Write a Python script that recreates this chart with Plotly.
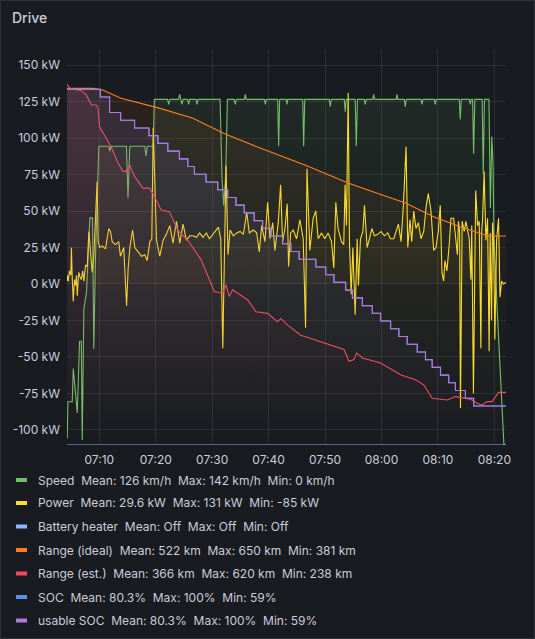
import pandas as pd
import plotly.graph_objects as go

DAY = pd.Timestamp("2023-06-17 07:00")

# time axis limits, minutes after 07:00
X_START, X_END = 4.27, 82.07

# Speed (km/h), minutes after 07:00
speed_t = [4.27, 4.32, 4.43, 5.20, 5.38, 6.09, 6.49, 6.80, 6.97, 7.26,
           7.73, 8.32, 8.79, 9.02, 9.32, 9.91, 11.67, 11.85, 12.03, 14.80,
           15.08, 15.40, 18.05, 18.27, 18.50, 19.55, 19.75, 22.10, 22.29, 22.50,
           24.05, 24.24, 24.45, 24.65, 24.85, 25.65, 25.83, 26.00, 27.15, 27.31,
           27.50, 31.40, 31.75, 32.05, 32.40, 32.70, 33.90, 34.10, 34.30, 35.70,
           35.87, 36.05, 39.25, 39.42, 39.60, 41.60, 41.78, 41.95, 43.10, 43.25,
           43.40, 46.05, 46.21, 46.40, 50.75, 50.93, 51.10, 53.40, 53.59, 53.75,
           55.35, 55.54, 55.75, 56.95, 57.13, 57.30, 58.45, 58.61, 58.80, 62.60,
           62.75, 62.90, 64.05, 64.22, 64.40, 67.00, 67.18, 67.35, 69.35, 69.54,
           69.70, 73.80, 73.96, 74.15, 75.58, 75.74, 75.90, 76.15, 76.33, 76.55,
           77.85, 78.04, 78.25, 79.05, 79.30, 79.55, 79.77, 79.95, 80.40, 80.90,
           81.30, 81.70, 82.07]
speed_kmh = [3, 3, 17.5, 17.5, 31, 13, 42, 42, 2, 55,
             62, 92, 92, 39, 76, 121, 121, 119, 121, 121,
             100, 121, 121, 117, 121, 121, 140, 140, 138, 140,
             140, 142, 140, 138, 140, 140, 138, 140, 140, 138,
             140, 140, 108, 97, 110, 140, 140, 138, 140, 140,
             142, 140, 140, 138, 140, 140, 121, 140, 140, 138,
             140, 140, 121, 140, 140, 137, 140, 140, 135, 140,
             140, 121, 140, 140, 138, 140, 140, 142, 140, 140,
             142, 140, 140, 137, 140, 140, 138, 140, 140, 138,
             140, 140, 132, 140, 140, 138, 140, 140, 118, 140,
             140, 110, 140, 140, 96, 125, 114, 83, 60, 38,
             15, 0, 0]

# Power (kW)
power_t = [4.27, 4.35, 4.50, 4.70, 4.95, 5.05, 5.20, 5.38, 5.60, 5.79,
           5.95, 6.09, 6.25, 6.37, 6.55, 6.80, 7.05, 7.26, 7.56, 7.86,
           8.14, 8.44, 8.74, 9.02, 9.32, 9.60, 9.80, 10.08, 10.51, 11.09,
           11.67, 11.97, 12.28, 12.86, 13.44, 13.74, 14.33, 14.55, 14.83, 15.11,
           15.41, 15.89, 16.29, 16.88, 17.48, 18.06, 18.47, 18.95, 19.30, 19.55,
           20.13, 20.71, 21.30, 21.88, 22.48, 23.06, 23.67, 24.25, 24.83, 25.43,
           26.02, 26.60, 27.20, 27.78, 28.37, 28.97, 29.50, 30.52, 31.10, 31.52,
           31.88, 32.15, 32.45, 32.81, 33.17, 33.75, 34.35, 34.94, 35.52, 36.12,
           36.58, 37.29, 37.89, 38.35, 38.77, 39.35, 39.83, 40.24, 40.72, 41.12,
           41.71, 42.13, 42.48, 42.89, 43.30, 43.54, 43.90, 44.36, 44.96, 45.54,
           46.13, 46.55, 46.80, 47.31, 47.89, 48.37, 48.78, 49.38, 49.96, 50.54,
           51.15, 51.55, 51.91, 52.31, 52.91, 53.32, 53.55, 53.80, 54.10, 54.33,
           54.63, 54.93, 55.34, 55.69, 55.92, 56.28, 56.70, 56.99, 57.46, 57.87,
           58.29, 58.75, 59.35, 59.94, 60.52, 61.12, 61.58, 62.18, 62.59, 63.00,
           63.47, 63.88, 64.36, 64.66, 65.06, 65.36, 65.72, 66.12, 66.53, 67.01,
           67.49, 67.95, 68.30, 68.78, 69.25, 69.66, 70.07, 70.42, 70.72, 71.02,
           71.25, 71.60, 72.01, 72.31, 72.79, 73.20, 73.45, 73.65, 73.85, 74.00,
           74.30, 74.66, 74.96, 75.55, 75.85, 76.00, 76.30, 76.70, 77.03, 77.32,
           77.62, 77.77, 77.91, 78.20, 78.50, 78.80, 79.08, 79.26, 79.51, 79.68,
           79.86, 80.10, 80.40, 80.75, 81.00, 81.30, 81.60, 82.07]
power_kw = [2, 6, 2, 9, 6, 25, 4, -12, 3, -1,
            6, -8, 2, 8, 5, 3, 9, 2, 13, 12,
            36, 20, 8, 18, 47, 70, 29, 25, 26, 24,
            38, 36, 29, 27, 29, 19, 25, 8, -15, 11,
            25, 37, 25, 22, 19, 20, 16, 29, 31, 107,
            30, 19, 30, 34, 40, 28, 43, 28, 41, 30,
            33, 33, 32, 35, 32, 35, 31, 36, 39, 31,
            -44, 15, 81, 20, 37, 33, 35, 36, 34, 49,
            35, 37, 35, 22, 40, 29, 56, 31, 42, 23,
            42, 68, 29, 38, 55, 12, 35, 37, 31, 44,
            31, -30, 79, 23, 45, 50, 31, 35, 31, 35,
            29, 11, 56, 38, 29, 27, 68, 40, 131, 29,
            -7, 25, -21, 31, -1, 31, 36, 54, 25, 31,
            38, 33, 34, 36, 33, 35, 31, 31, 36, 41,
            29, 54, 94, 25, 44, 29, 50, 38, 42, 31,
            36, 54, 62, 50, 23, 25, 36, 54, 8, 2,
            16, 9, 27, 45, 45, 31, 20, 43, 36, -85,
            43, 36, 43, 31, 3, 40, -75, 64, 40, 43,
            -44, 36, 44, 77, 30, 45, -46, 35, -25, 42,
            30, -38, 30, 45, -9, 2, 0, 1]

# Battery heater (off the whole drive)
heater_t = [X_START, X_END]
heater_on = [0, 0]

# Range (ideal), km
range_ideal_t = [4.27, 8.80, 10.60, 13.85, 20.30, 26.50, 32.10, 38.60,
                 46.55, 54.20, 59.25, 64.25, 69.25, 73.95, 79.00, 82.07]
range_ideal_km = [650, 650, 647, 632, 615, 596, 568, 541,
                  510, 477, 459, 441, 416, 398, 381, 381]

# Range (est.), km
range_est_t = [4.27, 4.75, 5.35, 6.82, 7.70, 8.59, 9.47, 9.77, 10.05, 10.94,
               12.12, 13.31, 14.19, 14.77, 15.36, 16.24, 17.73, 18.89, 19.78, 20.96,
               22.43, 23.91, 25.68, 28.03, 30.38, 31.87, 32.45, 33.03, 33.63, 36.29,
               37.75, 39.82, 41.59, 42.17, 43.36, 45.71, 49.24, 51.59, 53.36, 54.25,
               55.13, 55.61, 56.62, 59.85, 63.39, 66.04, 67.50, 68.99, 71.64, 73.11,
               75.76, 76.94, 77.83, 78.71, 79.59, 80.76, 82.07]
range_est_km = [620, 615, 614, 612, 607, 595, 595, 591, 569, 559,
                545, 526, 516, 516, 524, 510, 496, 496, 486, 470,
                468, 446, 434, 411, 373, 371, 381, 367, 375, 363,
                349, 347, 337, 341, 333, 321, 313, 308, 304, 290,
                292, 300, 294, 288, 274, 268, 262, 246, 244, 248,
                245, 240, 238, 242, 242, 253, 253]

# SOC and usable SOC (%), step changes
soc_t = [4.27, 10.18, 11.82, 13.77, 16.24, 18.79, 20.38, 22.14, 24.19, 25.68,
         26.85, 28.91, 30.98, 32.75, 34.22, 35.69, 37.45, 38.94, 40.40, 42.47,
         43.94, 45.41, 48.36, 50.13, 51.59, 53.66, 54.85, 56.62, 58.38, 59.85,
         61.62, 63.09, 64.57, 66.34, 67.80, 68.99, 70.46, 71.92, 73.11, 74.88,
         76.34, 82.07]
soc_pct = [100, 99, 97, 96, 95, 94, 93, 92, 91, 90,
           89, 88, 87, 86, 85, 84, 83, 82, 81, 80,
           79, 78, 77, 76, 75, 74, 73, 72, 71, 70,
           69, 68, 67, 66, 65, 64, 63, 62, 61, 60,
           59, 59]
usable_soc_pct = list(soc_pct)

legend_names = ["Speed", "Power", "Battery heater", "Range (ideal)",
                "Range (est.)", "SOC", "usable SOC"]
legend_stats = [
    "Mean: 126 km/h  Max: 142 km/h  Min: 0 km/h",
    "Mean: 29.6 kW  Max: 131 kW  Min: -85 kW",
    "Mean: Off  Max: Off  Min: Off",
    "Mean: 522 km  Max: 650 km  Min: 381 km",
    "Mean: 366 km  Max: 620 km  Min: 238 km",
    "Mean: 80.3%  Max: 100%  Min: 59%",
    "Mean: 80.3%  Max: 100%  Min: 59%",
]
colors = ["#73BF69", "#FADE2A", "#8AB8FF", "#FF7F1F", "#F2495C", "#5794F2", "#B877D9"]

kw_ticks = [-100, -75, -50, -25, 0, 25, 50, 75, 100, 125, 150]

BG = "#181b1f"
TEXT = "#ccccdc"
GRID = "rgba(204,204,220,0.10)"
FONT = "Inter, Roboto, sans-serif"

W, H = 535, 639
ML, MR, MT, MB = 67, 29, 50, 194
PW, PH = W - ML - MR, H - MT - MB


def at(minutes):
    return DAY + pd.to_timedelta(minutes, unit="min")


def px(x):
    return (x - ML) / PW


def py(y):
    return (H - MB - y) / PH


def rgba(hex_color, a):
    h = hex_color.lstrip("#")
    r, g, b = int(h[0:2], 16), int(h[2:4], 16), int(h[4:6], 16)
    return f"rgba({r},{g},{b},{a})"


def gradient(color, start, stop, top):
    return dict(type="vertical", start=start, stop=stop,
                colorscale=[[0, rgba(color, 0.0)], [1, rgba(color, top)]])


fig = go.Figure()

series = [
    # name, t, values, axis, color, shape, gradient range, top opacity
    ("Speed", speed_t, speed_kmh, "y", colors[0], "linear", (0, 142), 0.09),
    ("Power", power_t, power_kw, "y2", colors[1], "linear", (-110, 131), 0.07),
    ("Battery heater", heater_t, heater_on, "y3", colors[2], "linear", None, 0),
    ("Range (ideal)", range_ideal_t, range_ideal_km, "y4", colors[3], "linear", (0, 650), 0.08),
    ("Range (est.)", range_est_t, range_est_km, "y5", colors[4], "linear", (190, 620), 0.09),
    ("SOC", soc_t, soc_pct, "y6", colors[5], "hv", (54, 100), 0.06),
    ("usable SOC", soc_t, usable_soc_pct, "y6", colors[6], "hv", (54, 100), 0.08),
]

for name, t, vals, axis, color, shape, grad, top in series:
    kw = dict(
        x=at(t), y=vals, name=name, mode="lines", yaxis=axis,
        line=dict(color=color, width=1.1, shape=shape),
        hoverinfo="skip", showlegend=False,
    )
    if grad is not None:
        kw["fill"] = "tozeroy"
        kw["fillgradient"] = gradient(color, grad[0], grad[1], top)
    fig.add_trace(go.Scatter(**kw))

hidden = dict(visible=False, showgrid=False, zeroline=False, fixedrange=True)

fig.update_layout(
    width=W, height=H,
    margin=dict(l=ML, r=MR, t=MT, b=MB),
    paper_bgcolor=BG, plot_bgcolor=BG,
    font=dict(family=FONT, color=TEXT, size=12),
    xaxis=dict(
        type="date", range=[at(X_START), at(X_END)],
        tickformat="%H:%M", tick0=at(10), dtick=600000,
        showgrid=True, gridcolor=GRID, gridwidth=1,
        zeroline=False, showline=False, ticks="",
        tickfont=dict(size=12, color=TEXT), ticklabelstandoff=6,
    ),
    yaxis=dict(range=[0, 160], **hidden),
    yaxis2=dict(
        overlaying="y", side="left", range=[-110.3, 160.3],
        tickvals=kw_ticks, ticktext=[f"{v} kW" for v in kw_ticks],
        showgrid=True, gridcolor=GRID, gridwidth=1,
        zeroline=False, showline=False, ticks="",
        tickfont=dict(size=12, color=TEXT), ticklabelstandoff=6,
    ),
    yaxis3=dict(overlaying="y", range=[0, 1], **hidden),
    yaxis4=dict(overlaying="y", range=[0, 720], **hidden),
    yaxis5=dict(overlaying="y", range=[190.4, 660.4], **hidden),
    yaxis6=dict(overlaying="y", range=[53.95, 105.09], **hidden),
)

# panel title
fig.add_annotation(
    text="Drive", xref="paper", yref="paper", x=px(10), y=py(17),
    xanchor="left", yanchor="middle", showarrow=False,
    font=dict(size=14, color=TEXT, family=FONT, weight=500),
)

# panel border
fig.add_shape(
    type="rect", xref="paper", yref="paper",
    x0=px(0.5), x1=px(W - 0.5), y0=py(H - 0.5), y1=py(0.5),
    line=dict(color="rgba(204,204,220,0.13)", width=1), layer="below",
)

# legend rows
row_y = [480, 503, 526.5, 550, 573.5, 597, 620.5]
gap = "\u00a0\u00a0"
for name, stats, color, ry in zip(legend_names, legend_stats, colors, row_y):
    fig.add_shape(
        type="line", xref="paper", yref="paper",
        x0=px(16), x1=px(27), y0=py(ry), y1=py(ry),
        line=dict(color=color, width=4),
    )
    fig.add_annotation(
        text=name + gap + stats.replace("  ", gap),
        xref="paper", yref="paper", x=px(36), y=py(ry),
        xanchor="left", yanchor="middle", showarrow=False,
        font=dict(size=12, color=TEXT, family=FONT),
    )

fig.write_html(
    "out.html",
    config={"displayModeBar": False},
    post_script="document.body.style.margin='0';document.body.style.background='#181b1f';",
)
